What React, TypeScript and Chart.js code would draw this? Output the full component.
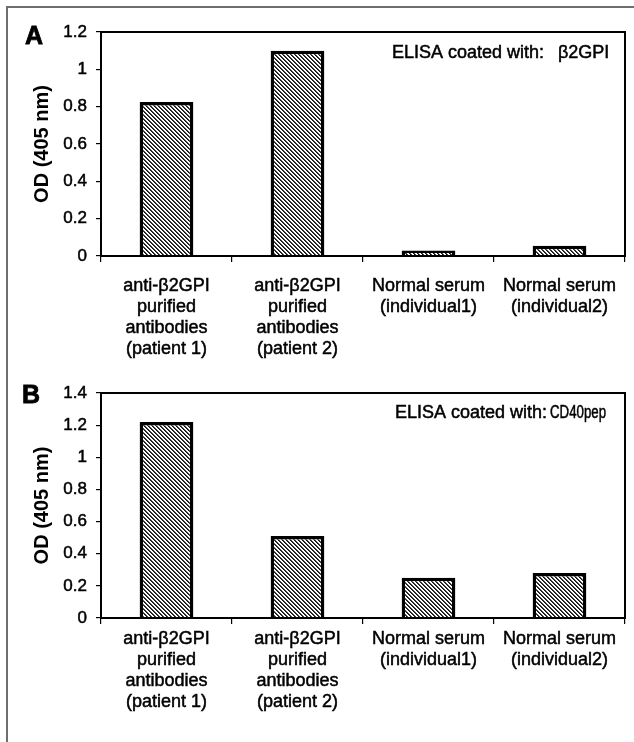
import React, { useEffect, useRef } from "react";
import { Chart, registerables } from "chart.js";

Chart.register(...registerables);

const categories: string[][] = [
  ["anti-β2GPI", "purified", "antibodies", "(patient 1)"],
  ["anti-β2GPI", "purified", "antibodies", "(patient 2)"],
  ["Normal serum", "(individual1)"],
  ["Normal serum", "(individual2)"],
];
const valuesA: number[] = [0.825, 1.1, 0.03, 0.055];
const valuesB: number[] = [1.22, 0.51, 0.25, 0.28];
const yMaxA = 1.2;
const yMaxB = 1.4;
const yStep = 0.2;
const yTitle = "OD (405 nm)";
const panelLetters = ["A", "B"];
const coatLabel = "ELISA coated with:";
const coatAntigens = ["β2GPI", "CD40pep"];

const FONT = "'Liberation Sans', Arial, sans-serif";

function makeHatch(): CanvasPattern | string {
  const c = document.createElement("canvas");
  c.width = 4;
  c.height = 4;
  const g = c.getContext("2d");
  if (!g) return "#555";
  g.fillStyle = "#fff";
  g.fillRect(0, 0, 4, 4);
  for (let y = 0; y < 4; y++) {
    for (let x = 0; x < 4; x++) {
      const d = (((x - y) % 4) + 4) % 4;
      if (d === 0) {
        g.fillStyle = "#111";
        g.fillRect(x, y, 1, 1);
      } else if (d === 1) {
        g.fillStyle = "#444";
        g.fillRect(x, y, 1, 1);
      }
    }
  }
  const p = g.createPattern(c, "repeat");
  return p || "#555";
}

interface PanelCfg {
  values: number[];
  yMax: number;
  height: number;
  padTop: number;
  plotBottom: number;
  xPad: number;
  letter: string;
  letterX: number;
  letterY: number;
  antigen: string;
  antigenMaxW: number;
  coatX: number;
  antigenX: number;
  coatY: number;
}

function Panel({ cfg, top }: { cfg: PanelCfg; top: number }) {
  const ref = useRef<HTMLCanvasElement | null>(null);
  useEffect(() => {
    if (!ref.current) return;
    const hatch = makeHatch();
    const overlay = {
      id: "overlay",
      afterDraw(chart: any) {
        const { ctx, chartArea } = chart;
        ctx.save();
        ctx.strokeStyle = "#000";
        ctx.lineWidth = 2;
        ctx.strokeRect(
          chartArea.left,
          chartArea.top,
          chartArea.right - chartArea.left,
          chartArea.bottom - chartArea.top
        );
        ctx.fillStyle = "#000";
        ctx.font = `bold 25px ${FONT}`;
        ctx.textAlign = "center";
        ctx.textBaseline = "middle";
        ctx.lineWidth = 0.8;
        ctx.fillText(cfg.letter, cfg.letterX, cfg.letterY);
        ctx.strokeText(cfg.letter, cfg.letterX, cfg.letterY);
        ctx.font = `18px ${FONT}`;
        ctx.textAlign = "left";
        ctx.lineWidth = 0.5;
        ctx.fillText(coatLabel, cfg.coatX, cfg.coatY);
        ctx.strokeText(coatLabel, cfg.coatX, cfg.coatY);
        ctx.fillText(cfg.antigen, cfg.antigenX, cfg.coatY, cfg.antigenMaxW);
        ctx.strokeText(cfg.antigen, cfg.antigenX, cfg.coatY, cfg.antigenMaxW);
        ctx.restore();
      },
    };
    const chart = new Chart(ref.current, {
      type: "bar",
      data: {
        labels: categories,
        datasets: [
          {
            data: cfg.values,
            backgroundColor: hatch as any,
            borderColor: "#000",
            borderWidth: 3.5,
            barPercentage: 0.41,
            categoryPercentage: 1,
          },
        ],
      },
      options: {
        responsive: false,
        animation: false,
        devicePixelRatio: 1,
        layout: { padding: { top: cfg.padTop, right: 9, left: 0, bottom: 0 } },
        plugins: { legend: { display: false }, tooltip: { enabled: false } },
        scales: {
          x: {
            afterFit(scale: any) {
              scale.height = cfg.height - cfg.plotBottom;
            },
            border: { display: false },
            grid: {
              drawOnChartArea: false,
              drawTicks: true,
              tickLength: 6,
              color: "#000",
              lineWidth: 1.2,
            },
            ticks: {
              color: "#000",
              maxRotation: 0,
              autoSkip: false,
              padding: cfg.xPad,
              textStrokeColor: "#000",
              textStrokeWidth: 0.5,
              font: { family: FONT, size: 18, lineHeight: 1.18 },
            },
          },
          y: {
            min: 0,
            max: cfg.yMax,
            afterFit(scale: any) {
              scale.width = 101;
            },
            border: { display: false },
            grid: {
              drawOnChartArea: false,
              drawTicks: true,
              tickLength: 5,
              color: "#000",
              lineWidth: 1.2,
            },
            ticks: {
              stepSize: yStep,
              color: "#000",
              padding: 9,
              textStrokeColor: "#000",
              textStrokeWidth: 0.5,
              callback: (v: any) => String(Number(Number(v).toFixed(1))),
              font: { family: FONT, size: 17 },
            },
            title: {
              display: true,
              text: yTitle,
              color: "#000",
              padding: { top: 30, bottom: 0 },
              font: { family: FONT, size: 20, weight: "bold" },
            },
          },
        },
      },
      plugins: [overlay],
    });
    return () => chart.destroy();
  }, [cfg]);
  return (
    <canvas
      ref={ref}
      width={634}
      height={cfg.height}
      style={{ position: "absolute", left: 0, top, width: 634, height: cfg.height }}
    />
  );
}

const cfgA: PanelCfg = {
  values: valuesA,
  yMax: yMaxA,
  height: 370,
  padTop: 32,
  plotBottom: 256,
  xPad: 13,
  letter: panelLetters[0],
  letterX: 34,
  letterY: 37,
  antigen: coatAntigens[0],
  antigenMaxW: 56,
  coatX: 392,
  antigenX: 558,
  coatY: 53,
};

const cfgB: PanelCfg = {
  values: valuesB,
  yMax: yMaxB,
  height: 372,
  padTop: 23,
  plotBottom: 248,
  xPad: 4,
  letter: panelLetters[1],
  letterX: 31,
  letterY: 26,
  antigen: coatAntigens[1],
  antigenMaxW: 56,
  coatX: 395,
  antigenX: 550,
  coatY: 43,
};

export default function App() {
  return (
    <div
      style={{
        position: "absolute",
        left: 0,
        top: 0,
        width: 634,
        height: 742,
        background: "#fff",
        overflow: "hidden",
      }}
    >
      <div
        style={{
          position: "absolute",
          left: 6,
          top: 6,
          width: 628,
          height: 2,
          background: "#6e6e6e",
        }}
      />
      <div
        style={{
          position: "absolute",
          left: 6,
          top: 6,
          width: 2,
          height: 736,
          background: "#6e6e6e",
        }}
      />
      <Panel cfg={cfgA} top={0} />
      <Panel cfg={cfgB} top={370} />
    </div>
  );
}
